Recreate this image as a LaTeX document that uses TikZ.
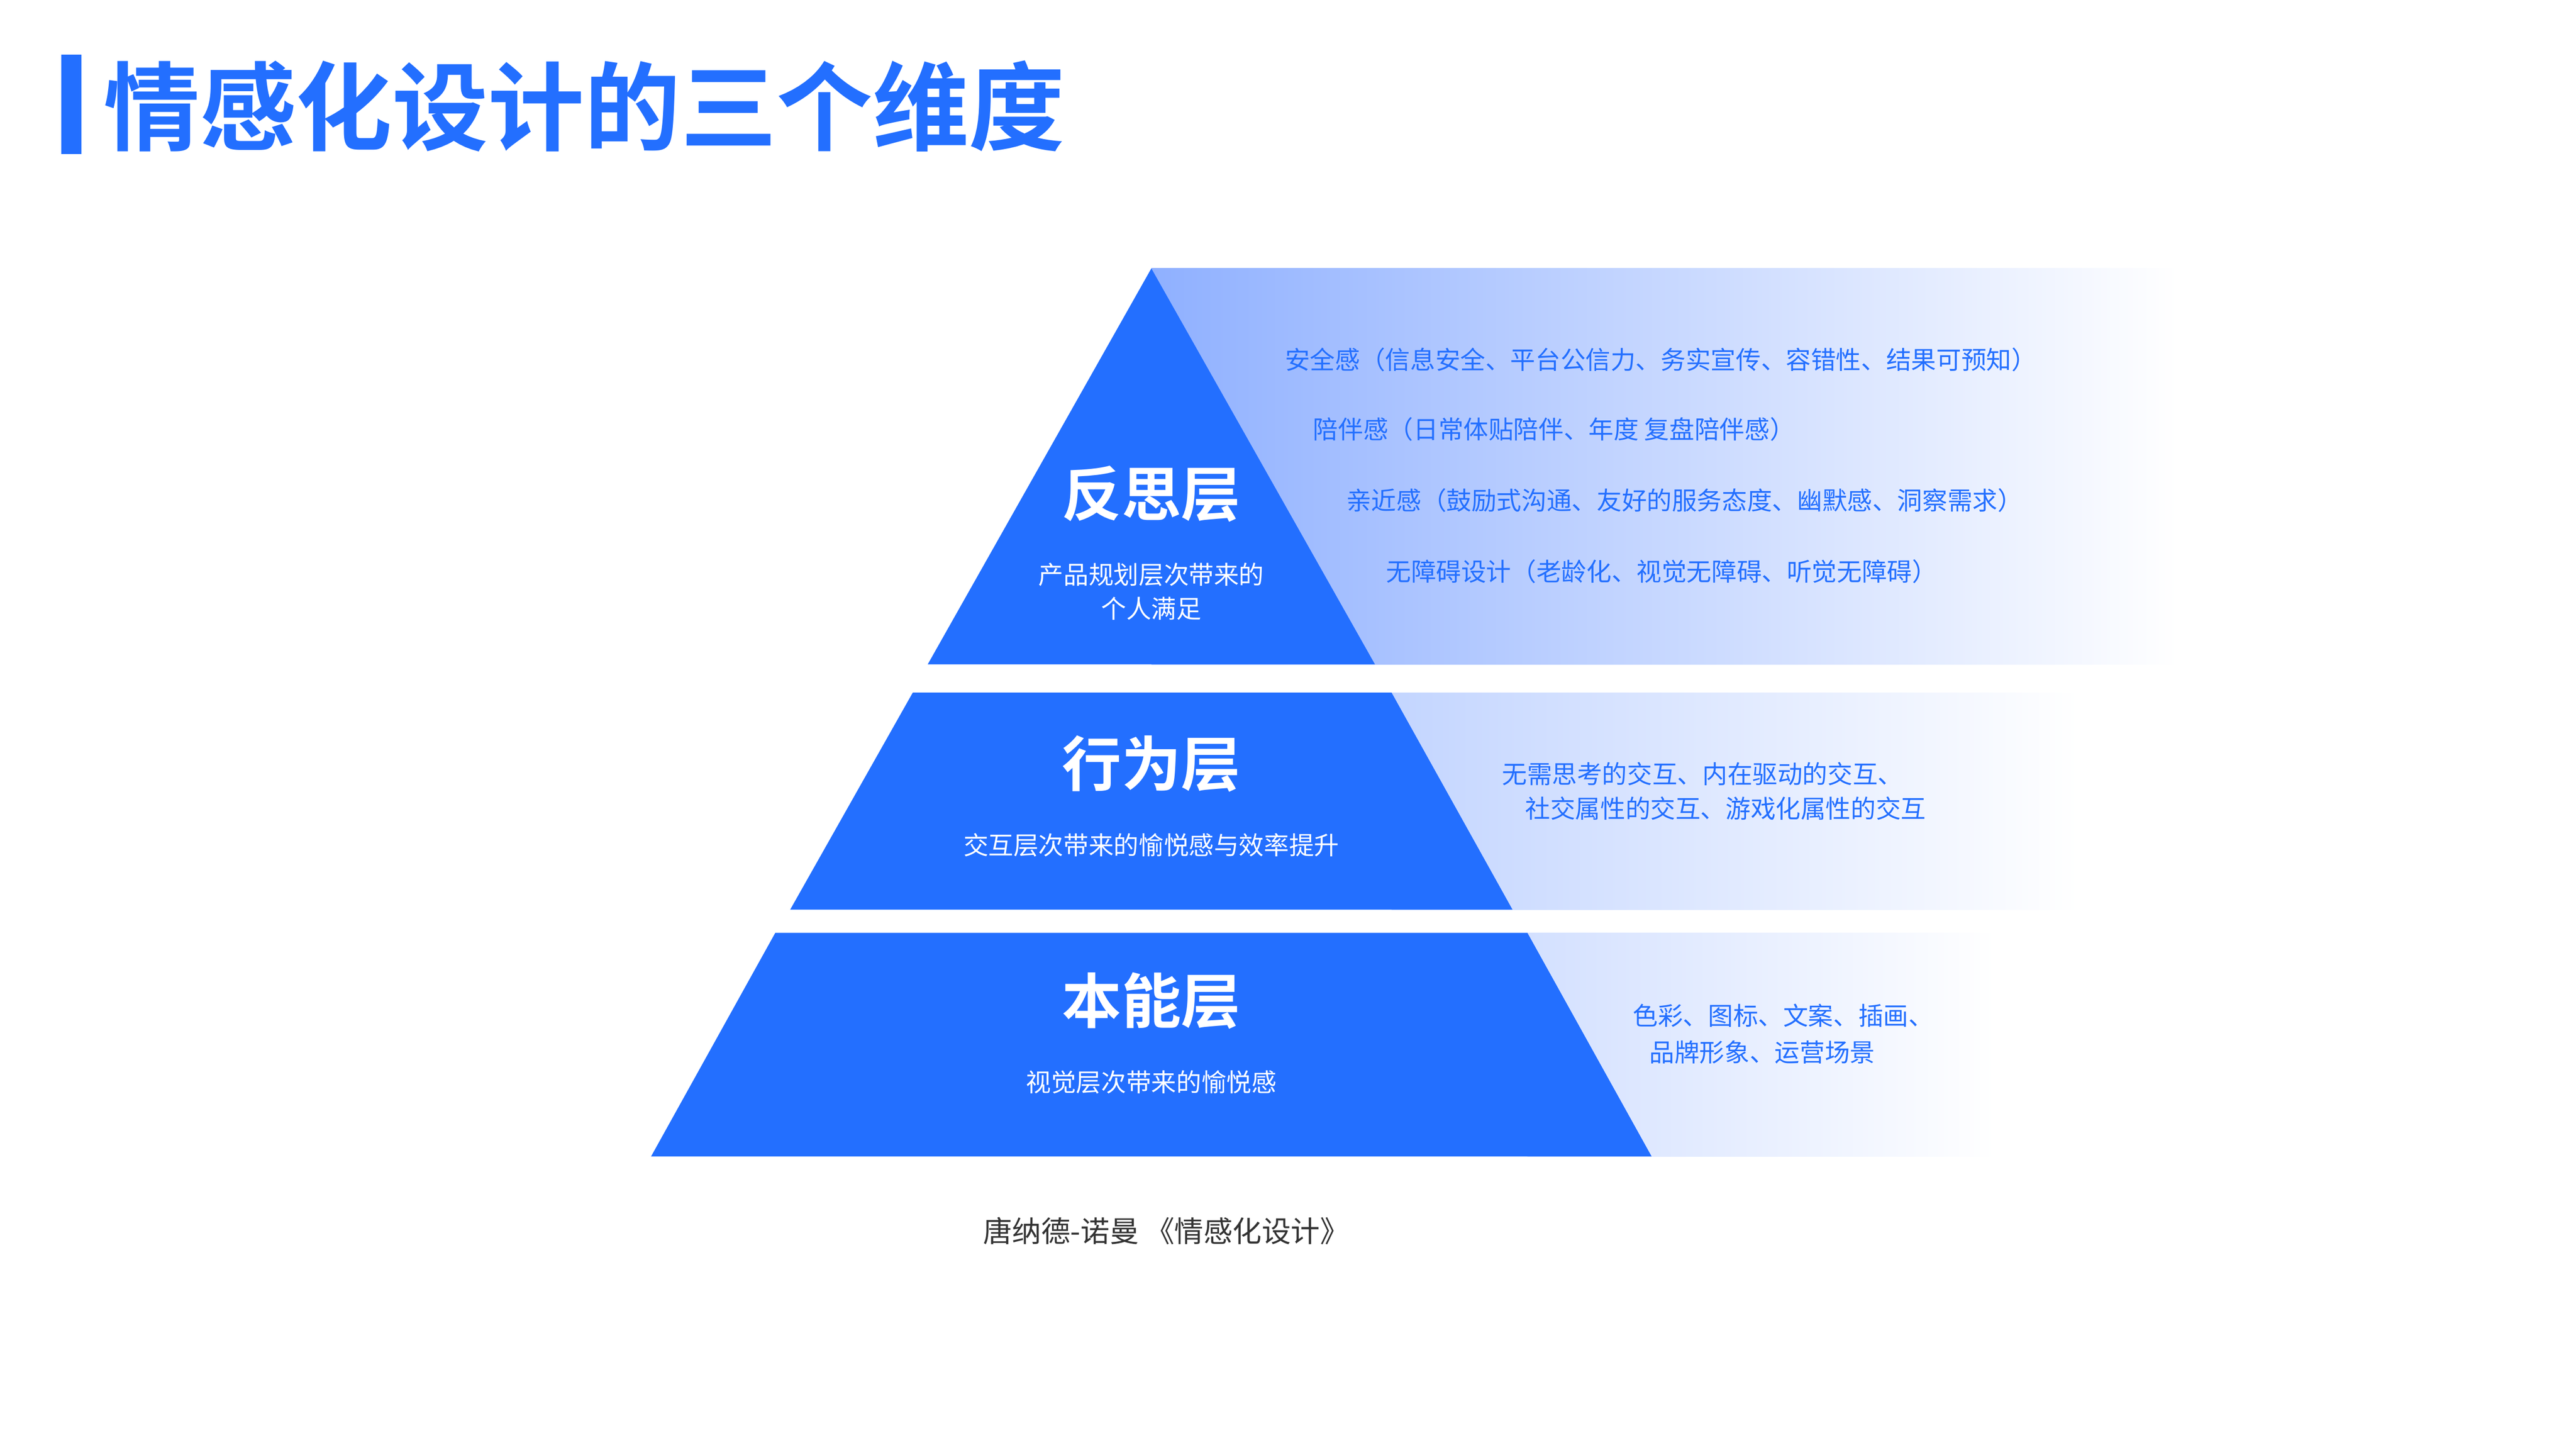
\documentclass[tikz,border=0pt]{standalone}
\usepackage{fontspec}
\setmainfont{Noto Sans CJK SC}
\newfontfamily\cjk{Noto Sans CJK SC}[BoldFont={Noto Sans CJK SC Bold}]
\usetikzlibrary{positioning,calc}
\definecolor{brand}{HTML}{236FFF}
\definecolor{bandA}{HTML}{8FB0FF}
\definecolor{bandB}{HTML}{C3D5FF}
\definecolor{bandC}{HTML}{D3E0FF}
\definecolor{capgray}{HTML}{333333}

\begin{document}
\begin{tikzpicture}[x=0.01cm,y=-0.01cm,
    layer/.style={fill=brand, draw=none},
    band/.style={right color=white, draw=none},
    heading/.style={text=white, font=\cjk\bfseries\fontsize{10.2}{12}\selectfont},
    sub/.style={text=white, align=center, font=\cjk\fontsize{4.3}{5.9}\selectfont},
    item/.style={text=brand, anchor=west, inner sep=0pt, font=\cjk\fontsize{4.3}{5.9}\selectfont},
    caption/.style={text=capgray, font=\cjk\fontsize{5}{6}\selectfont}
]
    \useasboundingbox (0,0) rectangle (1555,875);
    \fill[white] (0,0) rectangle (1555,875);

    % title
    \fill[brand] (37,33) rectangle (49,93);
    \node[anchor=west, text=brand, font=\cjk\bfseries\fontsize{16.5}{18}\selectfont, inner sep=0pt] (title) at (62,64) {情感化设计的三个维度};

    % gradient bands
    \shade[band, left color=bandA] (695,162) rectangle (1315,401);
    \shade[band, left color=bandB] (840,418) rectangle (1255,549);
    \shade[band, left color=bandC] (922,563) rectangle (1205,698);

    % pyramid layers
    \fill[layer] (695,162) -- (830,401) -- (560,401) -- cycle;
    \fill[layer] (551,418) -- (840,418) -- (913,549) -- (477,549) -- cycle;
    \fill[layer] (468,563) -- (922,563) -- (997,698) -- (393,698) -- cycle;

    % layer texts
    \node[heading] (reflect) at (695,298) {反思层};
    \node[sub] (reflectsub) at (695,357) {产品规划层次带来的\\个人满足};
    \node[heading] (behave) at (695,461) {行为层};
    \node[sub] (behavesub) at (695,510) {交互层次带来的愉悦感与效率提升};
    \node[heading] (instinct) at (695,604) {本能层};
    \node[sub] (instinctsub) at (695,653) {视觉层次带来的愉悦感};

    % items
    \node[item] (r1) at (775,217) {安全感（信息安全、平台公信力、务实宣传、容错性、结果可预知）};
    \node[item] (r2) at (792,259) {陪伴感（日常体贴陪伴、年度 复盘陪伴感）};
    \node[item] (r3) at (812,302) {亲近感（鼓励式沟通、友好的服务态度、幽默感、洞察需求）};
    \node[item] (r4) at (836,345) {无障碍设计（老龄化、视觉无障碍、听觉无障碍）};
    \node[item] (b1) at (906,467) {无需思考的交互、内在驱动的交互、};
    \node[item] (b2) at (920,488) {社交属性的交互、游戏化属性的交互};
    \node[item] (i1) at (985,613) {色彩、图标、文案、插画、};
    \node[item] (i2) at (995,635) {品牌形象、运营场景};

    % source
    \node[caption] (source) at (704,743) {唐纳德-诺曼 《情感化设计》};
\end{tikzpicture}
\end{document}
